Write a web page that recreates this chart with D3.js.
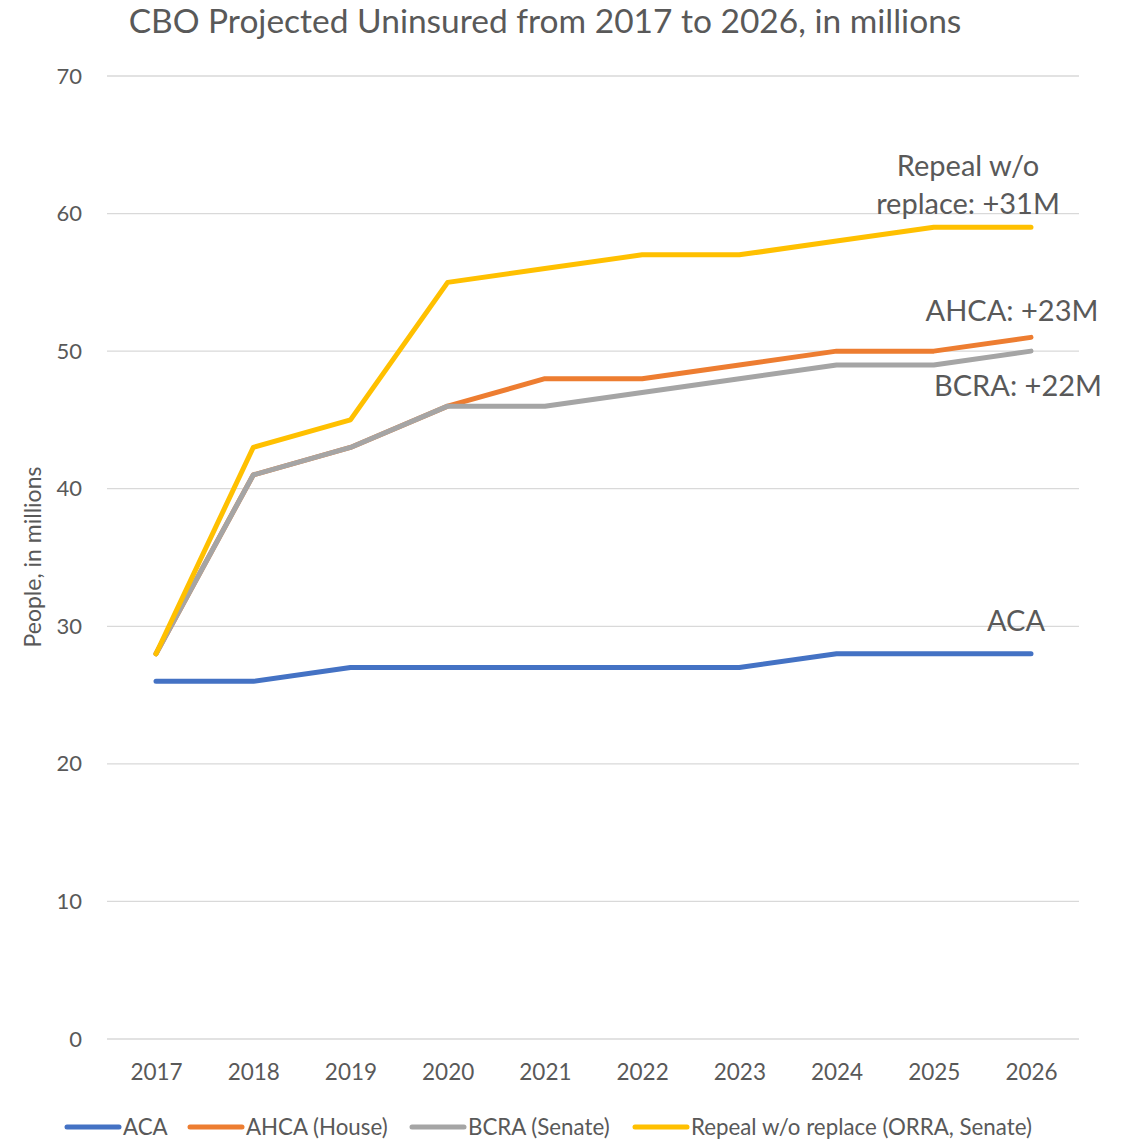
<!DOCTYPE html>
<html>
<head>
<meta charset="utf-8">
<script src="https://cdn.jsdelivr.net/npm/d3@7"></script>
<style>
  body { margin: 0; background: #fff; }
  svg text { font-family: Lato, "Open Sans", sans-serif; fill: #595959; }
</style>
</head>
<body>
<svg id="chart" width="1125" height="1141"></svg>
<script>
// CBO projections of the uninsured population, in millions
const years = [2017, 2018, 2019, 2020, 2021, 2022, 2023, 2024, 2025, 2026];
const aca    = [26, 26, 27, 27, 27, 27, 27, 28, 28, 28];
const ahca   = [28, 41, 43, 46, 48, 48, 49, 50, 50, 51];
const bcra   = [28, 41, 43, 46, 46, 47, 48, 49, 49, 50];
const repeal = [28, 43, 45, 55, 56, 57, 57, 58, 59, 59];
const seriesNames = ["ACA", "AHCA (House)", "BCRA (Senate)", "Repeal w/o replace (ORRA, Senate)"];
const seriesColors = ["#4472C4", "#ED7D31", "#A5A5A5", "#FFC000"];
const yTicks = [0, 10, 20, 30, 40, 50, 60, 70];

const series = [aca, ahca, bcra, repeal].map((vals, i) => ({
  name: seriesNames[i], color: seriesColors[i], values: vals
}));

const svg = d3.select("#chart");
const plot = { left: 107, right: 1079, top: 76, bottom: 1039 };

const x = d3.scalePoint().domain(years).range([156, 1031]);
const y = d3.scaleLinear().domain([0, 70]).range([plot.bottom, plot.top]);

// title
svg.append("text")
  .attr("x", 545).attr("y", 33)
  .attr("text-anchor", "middle")
  .style("font-size", "33.5px")
  .text("CBO Projected Uninsured from 2017 to 2026, in millions");

// horizontal gridlines
svg.append("g")
  .selectAll("line").data(yTicks).join("line")
  .attr("x1", plot.left).attr("x2", plot.right)
  .attr("y1", d => y(d)).attr("y2", d => y(d))
  .attr("stroke", "#D9D9D9").attr("stroke-width", 1.3);

// y axis labels
const yAxis = svg.append("g")
  .attr("transform", `translate(${plot.left - 25},0)`)
  .call(d3.axisLeft(y).tickValues(yTicks).tickSize(0).tickPadding(0));
yAxis.select(".domain").remove();
yAxis.selectAll("text").style("font-size", "22px").attr("fill", "#595959");

// x axis labels
const xAxis = svg.append("g")
  .attr("transform", `translate(0,${plot.bottom + 25})`)
  .call(d3.axisBottom(x).tickSize(0).tickPadding(0));
xAxis.select(".domain").remove();
xAxis.selectAll("text").style("font-size", "22.5px").attr("fill", "#595959").attr("dy", "0.72em");

// y axis title
svg.append("text")
  .attr("transform", "translate(41,557) rotate(-90)")
  .attr("text-anchor", "middle")
  .style("font-size", "23px")
  .text("People, in millions");

// series lines
const line = d3.line().x((d, i) => x(years[i])).y(d => y(d));
svg.append("g").selectAll("path").data(series).join("path")
  .attr("d", d => line(d.values))
  .attr("fill", "none")
  .attr("stroke", d => d.color)
  .attr("stroke-width", 5)
  .attr("stroke-linecap", "round")
  .attr("stroke-linejoin", "round");

// end-of-line annotations
const notes = [
  { lines: ["Repeal w/o", "replace: +31M"], cx: 968, cy: 176 },
  { lines: ["AHCA: +23M"], cx: 1012, cy: 321 },
  { lines: ["BCRA: +22M"], cx: 1018, cy: 396 },
  { lines: ["ACA"], cx: 1016, cy: 631 }
];
notes.forEach(n => {
  const t = svg.append("text").attr("text-anchor", "middle").style("font-size", "29px");
  n.lines.forEach((s, i) => {
    t.append("tspan").attr("x", n.cx).attr("y", n.cy + i * 38).text(s);
  });
});

// legend
const legendX = [65, 188, 410, 633];
const lg = svg.append("g").selectAll("g").data(series).join("g")
  .attr("transform", (d, i) => `translate(${legendX[i]},1127)`);
lg.append("line")
  .attr("x1", 2).attr("x2", 54).attr("y1", 0).attr("y2", 0)
  .attr("stroke", d => d.color).attr("stroke-width", 5).attr("stroke-linecap", "round");
lg.append("text")
  .attr("x", 58).attr("y", 8)
  .style("font-size", "22.3px")
  .text(d => d.name);
</script>
</body>
</html>
